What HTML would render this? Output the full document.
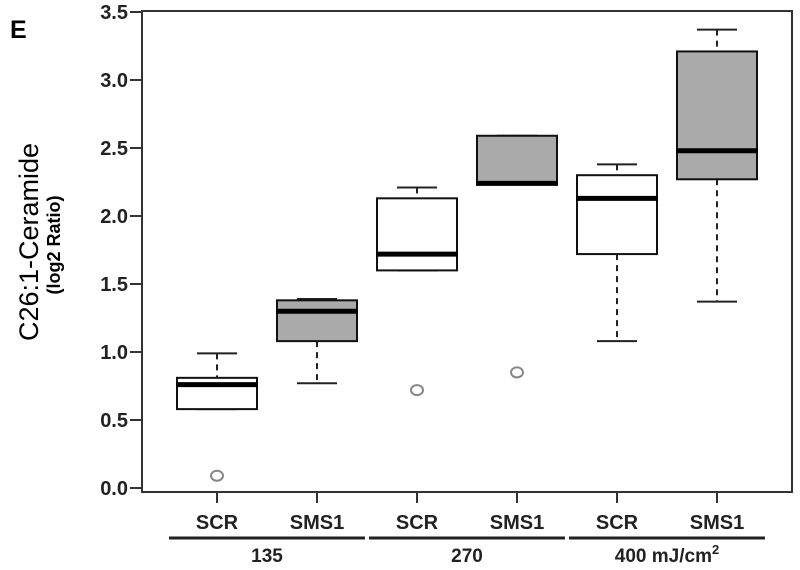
<!DOCTYPE html>
<html><head><meta charset="utf-8"><style>
body{margin:0;background:#fff}
svg{display:block;font-family:"Liberation Sans",Arial,sans-serif}
</style></head><body>
<svg id="chart" width="800" height="570" viewBox="0 0 800 570">
<text x="10" y="38" font-size="25" font-weight="bold">E</text>
<text transform="translate(38,242) rotate(-90)" text-anchor="middle" font-size="27">C26:1-Ceramide</text>
<text transform="translate(60,245) rotate(-90)" text-anchor="middle" font-size="18" font-weight="bold">(log2 Ratio)</text>
<rect x="142" y="11" width="650" height="481" fill="none" stroke="#333" stroke-width="2"/>
<g id="yaxis"></g>
<g id="boxes"></g>
<g id="xaxis"></g>
</svg>
<script>
const categories = ["SCR","SMS1","SCR","SMS1","SCR","SMS1"];
const mins    = [0.58, 0.77, 1.60, 2.24, 1.08, 1.37];
const q1s     = [0.58, 1.08, 1.60, 2.24, 1.72, 2.27];
const medians = [0.76, 1.30, 1.72, 2.24, 2.13, 2.48];
const q3s     = [0.81, 1.38, 2.13, 2.59, 2.30, 3.21];
const maxs    = [0.99, 1.39, 2.21, 2.59, 2.38, 3.37];
const outliers = [[0.09], [], [0.72], [0.85], [], []];
const fills = ["#fff","#aaa","#fff","#aaa","#fff","#aaa"];
const yTicks = [0, 0.5, 1.0, 1.5, 2.0, 2.5, 3.0, 3.5];
const groupLabels = ["135","270","400 mJ/cm"];

const NS="http://www.w3.org/2000/svg";
const y = v => 488 - v*136;
const x = i => 217 + i*100;
function mk(tag, attrs, parent){const e=document.createElementNS(NS,tag);for(const k in attrs)e.setAttribute(k,attrs[k]);parent.appendChild(e);return e;}
const ya=document.getElementById('yaxis'), bx=document.getElementById('boxes'), xa=document.getElementById('xaxis');
yTicks.forEach(t=>{
  const l=mk('line',{x1:130,x2:142,y1:y(t),y2:y(t),stroke:'#333','stroke-width':2},ya);
  
  
  const tx=mk('text',{x:128,y:y(t)+7,'text-anchor':'end','font-size':20,'font-weight':'bold',fill:'#222'},ya);
  tx.textContent=t.toFixed(1);
  
  
});
categories.forEach((c,i)=>{
  const cx=x(i), hw=40;
  const g=mk('g',{},bx);
  
  
  mk('line',{x1:cx,x2:cx,y1:y(maxs[i]),y2:y(q3s[i]),stroke:'#222','stroke-width':2,'stroke-dasharray':'6,5'},g);
  mk('line',{x1:cx,x2:cx,y1:y(q1s[i]),y2:y(mins[i]),stroke:'#222','stroke-width':2,'stroke-dasharray':'6,5'},g);
  mk('line',{x1:cx-20,x2:cx+20,y1:y(maxs[i]),y2:y(maxs[i]),stroke:'#222','stroke-width':2},g);
  mk('line',{x1:cx-20,x2:cx+20,y1:y(mins[i]),y2:y(mins[i]),stroke:'#222','stroke-width':2},g);
  mk('rect',{x:cx-hw,y:y(q3s[i]),width:hw*2,height:y(q1s[i])-y(q3s[i]),fill:fills[i],stroke:'#111','stroke-width':2},g);
  mk('line',{x1:cx-hw-1,x2:cx+hw+1,y1:y(medians[i]),y2:y(medians[i]),stroke:'#000','stroke-width':5},g);
  outliers[i].forEach(o=>{
    const ci=mk('ellipse',{cx:cx,cy:y(o),rx:6,ry:5,fill:'none',stroke:'#888','stroke-width':2},g);
    
    
  });
  const tk=mk('line',{x1:cx,x2:cx,y1:492,y2:503,stroke:'#333','stroke-width':2},xa);
  
  
  const tx=mk('text',{x:cx,y:529,'text-anchor':'middle','font-size':20,'font-weight':'bold',fill:'#222'},xa);
  tx.textContent=c;
  
  
});
groupLabels.forEach((gl,j)=>{
  const x0=x(j*2)-48, x1=x(j*2+1)+48;
  const ln=mk('line',{x1:x0,x2:x1,y1:538,y2:538,stroke:'#222','stroke-width':3},xa);
  
  
  const tx=mk('text',{x:(x0+x1)/2,y:562,'text-anchor':'middle','font-size':19,'font-weight':'bold',fill:'#222'},xa);
  tx.textContent=gl;
  if(j===2){const s=mk('tspan',{dy:-8,'font-size':13},tx);s.textContent='2';}
  
  
});
</script>
</body></html>
